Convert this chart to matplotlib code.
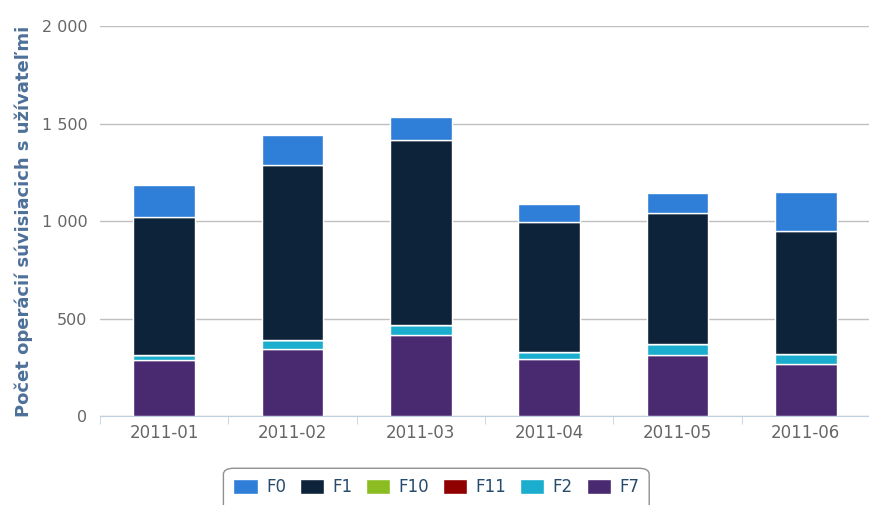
import numpy as np
import matplotlib.pyplot as plt
from matplotlib.patches import FancyBboxPatch
from matplotlib.ticker import FuncFormatter

plt.rcParams["font.family"] = ["DejaVu Sans"]

months = ["2011-01", "2011-02", "2011-03", "2011-04", "2011-05", "2011-06"]

# stacked series, top to bottom as in the legend
f0 = [165, 154, 118, 92, 103, 200]
f1 = [705, 897, 948, 667, 672, 631]
f10 = [0, 0, 0, 0, 0, 0]
f11 = [0, 0, 0, 0, 0, 0]
f2 = [25, 45, 52, 36, 56, 51]
f7 = [290, 344, 415, 292, 313, 267]

series = [
    ("F0", f0, "#2f7ed8"),
    ("F1", f1, "#0d233a"),
    ("F10", f10, "#8bbc21"),
    ("F11", f11, "#910000"),
    ("F2", f2, "#1aadce"),
    ("F7", f7, "#492970"),
]

fig = plt.figure(figsize=(8.7, 5.05), dpi=100)
ax = fig.add_axes([0.115, 0.176, 0.885, 0.7725])

x = np.arange(len(months))
bottom = np.zeros(len(months))
handles = {}
# draw from the bottom series up
for name, vals, color in reversed(series):
    vals = np.array(vals, dtype=float)
    b = ax.bar(x, vals, bottom=bottom, width=0.48, color=color,
               edgecolor="white", linewidth=1, label=name, zorder=3)
    handles[name] = b
    bottom += vals

ax.set_xlim(-0.5, len(months) - 0.5)
ax.set_ylim(0, 2000)
ax.set_yticks([0, 500, 1000, 1500, 2000])
ax.yaxis.set_major_formatter(FuncFormatter(lambda v, p: f"{int(v):,}".replace(",", " ")))
ax.grid(axis="y", color="#c0c0c0", linewidth=1, zorder=0)

ax.set_xticks(x)
ax.set_xticklabels(months)
ax.set_xticks(np.arange(-0.5, len(months)), minor=True)
ax.tick_params(axis="x", which="major", length=0, pad=6, labelsize=12, labelcolor="#666666")
ax.tick_params(axis="x", which="minor", length=6, color="#c0d0e0")
ax.tick_params(axis="y", length=0, pad=9, labelsize=11.5, labelcolor="#666666")

for s in ["top", "right", "left"]:
    ax.spines[s].set_visible(False)
ax.spines["bottom"].set_color("#c0d0e0")

ax.set_ylabel("Počet operácií súvisiacich s užívateľmi", fontsize=13,
              fontweight="bold", color="#4d7099", labelpad=6)

names = [s[0] for s in series]
leg = fig.legend([handles[n] for n in names], names, loc="lower center",
                 bbox_to_anchor=(0.5015, -0.019), ncol=6, frameon=False,
                 fontsize=12, handlelength=1.45, handleheight=1.0,
                 handletextpad=0.5, columnspacing=0.83, borderpad=0.6)
for t in leg.get_texts():
    t.set_color("#274b6d")

# legend box runs off the bottom edge, as in the original
fig.canvas.draw()
bb = leg.get_window_extent().transformed(fig.transFigure.inverted())
frame = FancyBboxPatch((bb.x0, -0.05), bb.width, bb.y1 + 0.05,
                       boxstyle="round,pad=0,rounding_size=0.012",
                       transform=fig.transFigure, facecolor="white",
                       edgecolor="#909090", linewidth=1, zorder=0)
fig.patches.append(frame)

fig.savefig("out.png", dpi=100)
